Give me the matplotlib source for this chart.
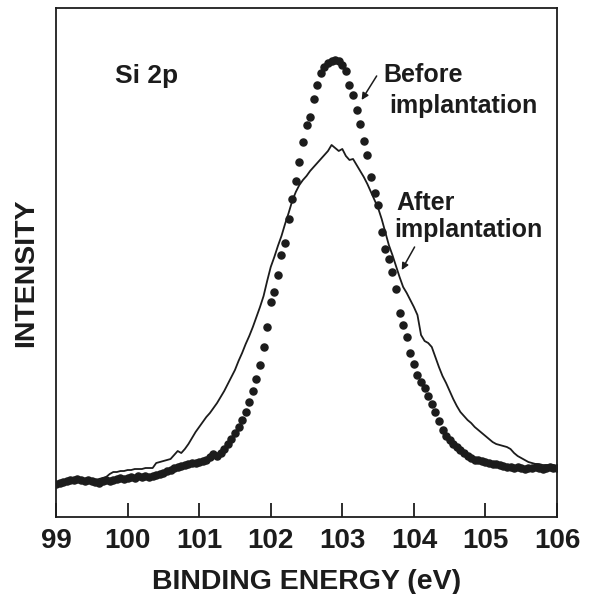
import numpy as np
import matplotlib
matplotlib.use("Agg")
import matplotlib.pyplot as plt

plt.rcParams['font.family'] = ['Liberation Sans', 'DejaVu Sans']

# Binding energy grid (eV) and intensities (arbitrary units)
energy = [round(99.0 + 0.05 * i, 2) for i in range(141)]

before = [33, 34, 35, 36, 37, 37, 38, 37, 36, 37,
          36, 35, 34, 36, 37, 36, 37, 38, 39, 38,
          39, 40, 39, 41, 40, 41, 40, 41, 42, 43,
          44, 46, 47, 49, 50, 51, 52, 53, 54, 54,
          55, 56, 57, 60, 63, 61, 64, 68, 73, 78,
          84, 90, 97, 105, 115, 126, 138, 152, 170, 190,
          215, 225, 242, 262, 274, 298, 318, 336, 355, 375,
          392, 400, 418, 432, 444, 450, 454, 456, 457, 456,
          452, 446, 432, 422, 407, 393, 376, 362, 340, 324,
          312, 285, 268, 258, 245, 228, 204, 192, 180, 164,
          153, 142, 135, 129, 121, 113, 105, 96, 87, 81,
          77, 73, 70, 67, 64, 61, 59, 57, 57, 56,
          55, 54, 53, 53, 52, 51, 50, 50, 49, 50,
          49, 48, 49, 49, 50, 49, 48, 49, 50, 49,
          49]

after = [33, 35, 36, 36, 37, 38, 38, 37, 37, 38,
         37, 37, 38, 39, 40, 43, 45, 45, 46, 46,
         47, 47, 48, 48, 48, 49, 49, 49, 54, 55,
         56, 57, 58, 62, 66, 64, 68, 73, 79, 85,
         90, 95, 100, 104, 109, 114, 120, 126, 133, 140,
         147, 156, 164, 173, 181, 190, 200, 210, 221, 236,
         250, 260, 271, 281, 293, 304, 316, 325, 332, 337,
         341, 346, 350, 354, 358, 362, 366, 372, 369, 366,
         368, 361, 357, 358, 352, 346, 340, 333, 325, 317,
         309, 298, 285, 272, 262, 251, 240, 230, 224, 217,
         210, 202, 182, 176, 174, 170, 160, 150, 141, 134,
         126, 118, 111, 105, 101, 97, 94, 90, 87, 84,
         81, 78, 75, 73, 72, 71, 70, 68, 64, 61,
         59, 57, 55, 54, 53, 53, 52, 52, 52, 52,
         51]

xticks = [99, 100, 101, 102, 103, 104, 105, 106]

ink = '#1c1c1c'
fig = plt.figure(figsize=(5.96, 5.94), dpi=100)
ax = fig.add_axes([0.094, 0.1296, 0.8406, 0.857])

ax.plot(energy, after, color=ink, lw=1.3, zorder=2)
ax.plot(energy, before, linestyle='none', marker='o', ms=5.1,
        color=ink, mec=ink, zorder=3)

ax.set_xlim(99, 106)
ax.set_ylim(0, 509)
ax.set_xticks(xticks)
ax.set_xticklabels([str(t) for t in xticks])
ax.set_yticks([])
ax.tick_params(axis='x', direction='in', length=10, width=1.3, pad=8,
               labelsize=20, colors=ink, labelcolor=ink)
for lab in ax.get_xticklabels():
    lab.set_fontweight('bold')
for sp in ax.spines.values():
    sp.set_linewidth(1.3)
    sp.set_color(ink)

ax.set_xlabel('BINDING ENERGY (eV)', fontsize=20.5, fontweight='bold',
              color=ink, labelpad=11)
ax.set_ylabel('INTENSITY', fontsize=20.5, fontweight='bold',
              color=ink, labelpad=12, y=0.48)

ax.text(99.82, 434, 'Si 2p', fontsize=19, fontweight='bold', color=ink)

ax.text(103.57, 435, 'Before', fontsize=18, fontweight='bold', color=ink)
ax.text(103.66, 404, 'implantation', fontsize=18, fontweight='bold', color=ink)
ax.annotate('', xy=(103.27, 417), xytext=(103.48, 441),
            arrowprops=dict(arrowstyle='-|>', color=ink, lw=1.1,
                            mutation_scale=10, shrinkA=0, shrinkB=0))

ax.text(103.76, 307, 'After', fontsize=18, fontweight='bold', color=ink)
ax.text(103.73, 280, 'implantation', fontsize=18, fontweight='bold', color=ink)
ax.annotate('', xy=(103.83, 247), xytext=(104.01, 270),
            arrowprops=dict(arrowstyle='-|>', color=ink, lw=1.1,
                            mutation_scale=10, shrinkA=0, shrinkB=0))

fig.savefig('out.png', dpi=100, facecolor='white')
